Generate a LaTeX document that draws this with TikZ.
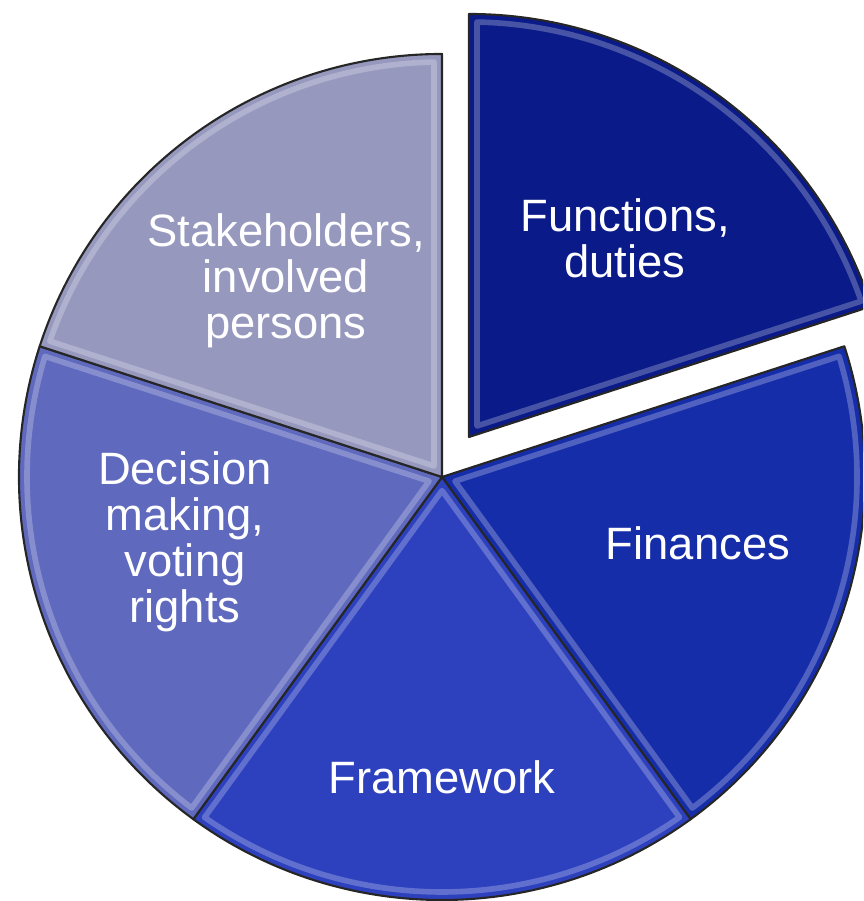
\documentclass[tikz,border=0pt]{standalone}
\usepackage{fontspec}
\setmainfont{Liberation Sans}
\usetikzlibrary{calc}

\definecolor{funcblue}{RGB}{10,26,136}
\definecolor{finblue}{RGB}{22,45,170}
\definecolor{frameblue}{RGB}{45,65,190}
\definecolor{decblue}{RGB}{95,105,190}
\definecolor{stakegray}{RGB}{150,152,190}

\tikzset{
  slice/.style={draw=black!85, line width=0.6pt, line join=round},
  gloss/.style={draw=white, opacity=0.25, line width=1.6pt, line join=round},
  lbl/.style={text=white, align=center, font=\fontsize{12.9}{13.1}\selectfont},
}

\begin{document}
\begin{tikzpicture}[x=0.01cm,y=0.01cm]
    \clip (0,0) rectangle (863,901); % page frame, cuts the pulled-out slice
    \coordinate (c) at (442,424); % centre of the pie
    \coordinate (e) at (469,464); % centre of the pulled-out slice

    % Four slices that stay in place, 72 degrees each
    \foreach \a/\col in {18/finblue, -54/frameblue, -126/decblue, 162/stakegray}{
        \filldraw[slice, fill=\col] (c) -- ($(c)+(\a:423)$) arc[start angle=\a, end angle=\a-72, radius=423] -- cycle;
        \draw[gloss] ($(c)+(\a-36:13.6)$) -- ($(c)+(\a-1.1:415)$) arc[start angle=\a-1.1, end angle=\a-70.9, radius=415] -- cycle;
    }

    % The pulled-out slice
    \filldraw[slice, fill=funcblue] (e) -- ($(e)+(90:423)$) arc[start angle=90, end angle=18, radius=423] -- cycle;
    \draw[gloss] ($(e)+(54:13.6)$) -- ($(e)+(88.9:415)$) arc[start angle=88.9, end angle=19.1, radius=415] -- cycle;

    \node[lbl] (func) at (625,663) {Functions,\\duties}; % Label for the pulled-out slice
    \node[lbl] (fin) at (698,358) {Finances};
    \node[lbl] (frame) at (442,124) {Framework};
    \node[lbl] (dec) at (185,359) {Decision\\making,\\voting\\rights};
    \node[lbl] (stake) at (286,620) {Stakeholders,\\involved\\persons};
\end{tikzpicture}
\end{document}
